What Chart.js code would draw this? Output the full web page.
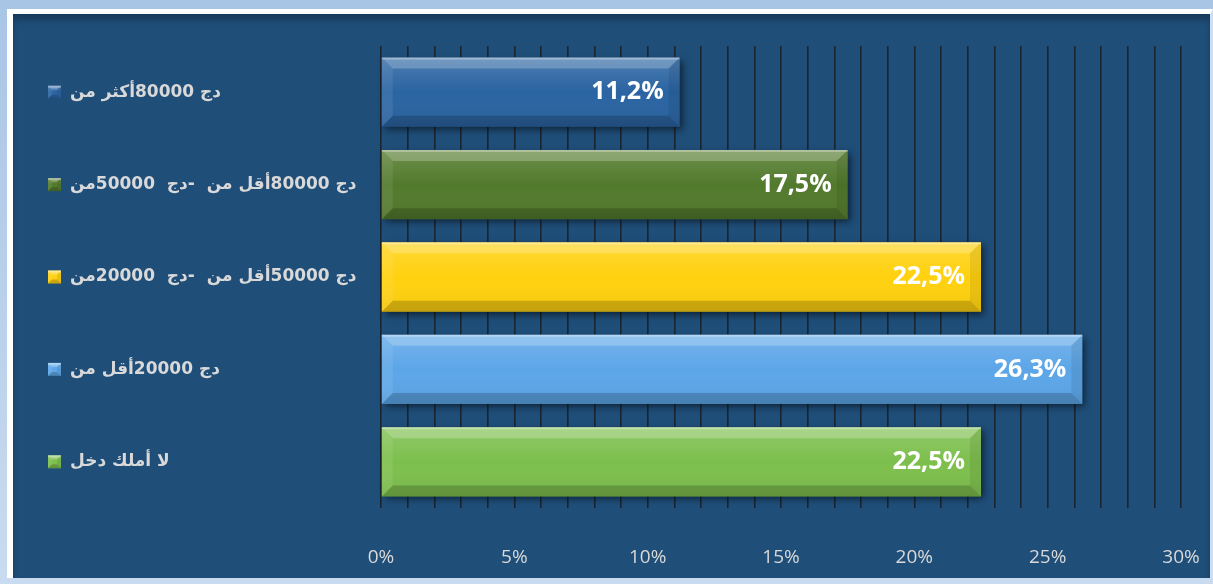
<!DOCTYPE html>
<html lang="ar">
<head>
    <meta charset="UTF-8">
    <title>Income distribution</title>
    <script src="https://cdn.jsdelivr.net/npm/chart.js"></script>
    <style>
        body, html {
            margin: 0;
            padding: 0;
            width: 1213px;
            height: 584px;
            overflow: hidden;
            background: linear-gradient(#a9c5e6, #c9dbf0);
        }
        .frame {
            position: absolute;
            left: 7px;
            top: 9px;
            right: 0;
            bottom: 6px;
            background-color: #1f4e79;
            border-top: 5px solid #ffffff;
            border-left: 6px solid #ffffff;
            border-right: 3px solid #cfdff0;
            box-shadow: inset 0 6px 6px rgba(0, 0, 0, 0.25);
        }
        #chart {
            position: absolute;
            left: 0;
            top: 0;
        }
    </style>
</head>
<body>
    <div class="frame"></div>
    <canvas id="chart" width="1213" height="584"></canvas>
    <script>
        const categories = [
            'دج 80000أكثر من',
            'دج 80000أقل من  -دج  50000من',
            'دج 50000أقل من  -دج  20000من',
            'دج 20000أقل من',
            'لا أملك دخل'
        ];
        const shares = [11.2, 17.5, 22.5, 26.3, 22.5];
        const barColors = ['#2a64a2', '#527a2c', '#ffd10f', '#5ca6e8', '#7dbf4d'];
        const xTicks = [0, 5, 10, 15, 20, 25, 30];

        // shadow under each bar
        const barShadow = {
            id: 'barShadow',
            beforeDatasetsDraw(chart) {
                const ctx = chart.ctx;
                ctx.save();
                chart.getDatasetMeta(0).data.forEach(bar => {
                    const top = bar.y - bar.height / 2;
                    ctx.shadowColor = 'rgba(0, 0, 0, 0.55)';
                    ctx.shadowBlur = 7;
                    ctx.shadowOffsetX = 3;
                    ctx.shadowOffsetY = 3;
                    ctx.fillStyle = '#1a3a5a';
                    ctx.fillRect(bar.base, top, bar.x - bar.base, bar.height);
                });
                ctx.restore();
            }
        };

        function bevel(ctx, l, t, r, b, s) {
            const g = ctx.createLinearGradient(0, t, 0, b);
            g.addColorStop(0, 'rgba(255,255,255,0.16)');
            g.addColorStop(0.5, 'rgba(255,255,255,0)');
            g.addColorStop(1, 'rgba(0,0,0,0.06)');
            ctx.fillStyle = g;
            ctx.fillRect(l, t, r - l, b - t);
            const faces = [
                [[l, t], [r, t], [r - s, t + s], [l + s, t + s], 'rgba(255,255,255,0.22)'],
                [[l, t], [l + s, t + s], [l + s, b - s], [l, b], 'rgba(255,255,255,0.08)'],
                [[l, b], [l + s, b - s], [r - s, b - s], [r, b], 'rgba(0,0,0,0.18)'],
                [[r, t], [r, b], [r - s, b - s], [r - s, t + s], 'rgba(0,0,0,0.08)']
            ];
            faces.forEach(f => {
                ctx.beginPath();
                ctx.moveTo(f[0][0], f[0][1]);
                for (let i = 1; i < 4; i++) ctx.lineTo(f[i][0], f[i][1]);
                ctx.closePath();
                ctx.fillStyle = f[4];
                ctx.fill();
            });
            ctx.fillStyle = 'rgba(255,255,255,0.3)';
            ctx.fillRect(l, t, r - l, 2);
        }

        // bevel, value labels and legend squares
        const barDecor = {
            id: 'barDecor',
            afterDatasetsDraw(chart) {
                const ctx = chart.ctx;
                ctx.save();
                chart.getDatasetMeta(0).data.forEach((bar, i) => {
                    const top = bar.y - bar.height / 2;
                    bevel(ctx, bar.base, top, bar.x, top + bar.height, 11);
                    ctx.fillStyle = '#ffffff';
                    ctx.font = 'bold 25px "Open Sans"';
                    ctx.textAlign = 'right';
                    ctx.textBaseline = 'middle';
                    ctx.fillText(shares[i].toFixed(1).replace('.', ',') + '%', bar.x - 16, bar.y);
                });
                const yScale = chart.scales.y;
                categories.forEach((c, i) => {
                    const py = yScale.getPixelForValue(i);
                    const x = 48, y = py - 6.5, s = 13;
                    ctx.fillStyle = barColors[i];
                    ctx.fillRect(x, y, s, s);
                    bevel(ctx, x, y, x + s, y + s, 4);
                });
                ctx.restore();
            }
        };

        new Chart(document.getElementById('chart'), {
            type: 'bar',
            data: {
                labels: categories,
                datasets: [{
                    data: shares,
                    backgroundColor: barColors,
                    borderWidth: 0,
                    categoryPercentage: 0.75,
                    barPercentage: 1
                }]
            },
            options: {
                indexAxis: 'y',
                responsive: false,
                animation: false,
                layout: { padding: { left: 70, top: 46, right: 32, bottom: 0 } },
                plugins: { legend: { display: false }, tooltip: { enabled: false } },
                scales: {
                    x: {
                        min: 0,
                        max: 30,
                        grid: {
                            color: '#1b2530',
                            lineWidth: 1.6,
                            drawTicks: true,
                            tickLength: 36,
                            tickColor: 'transparent'
                        },
                        border: { display: false },
                        afterFit: s => { s.height = 76; },
                        ticks: {
                            stepSize: 1,
                            autoSkip: false,
                            maxRotation: 0,
                            padding: 2,
                            color: '#d9d9d9',
                            font: { family: '"Open Sans"', size: 19 },
                            callback: v => (xTicks.includes(v) ? v + '%' : '')
                        }
                    },
                    y: {
                        grid: { display: false },
                        border: { display: false },
                        afterFit: s => { s.width = 311; },
                        ticks: {
                            crossAlign: 'far',
                            color: '#d9d9d9',
                            font: { family: '"DejaVu Sans"', size: 17, weight: 'bold' }
                        }
                    }
                }
            },
            plugins: [barShadow, barDecor]
        });
    </script>
</body>
</html>
